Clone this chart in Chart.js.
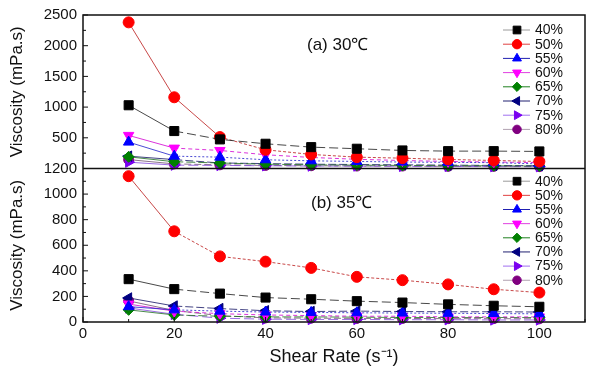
<!DOCTYPE html>
<html><head><meta charset="utf-8">
<script src="https://cdn.jsdelivr.net/npm/chart.js@4.4.1/dist/chart.umd.min.js"></script>
<style>html,body{margin:0;padding:0;background:#fff}#wrap{width:596px;height:371px;position:relative}</style>
</head><body><div id="wrap"><canvas id="c" width="596" height="371"></canvas></div>
<script>
// ---------- data ----------
const shearRate = [10, 20, 30, 40, 50, 60, 70, 80, 90, 100];
const concentrationLabels = ['40%', '50%', '55%', '60%', '65%', '70%', '75%', '80%'];
const panelLabels = ['(a) 30℃', '(b) 35℃'];
const xTickValues = [0, 20, 40, 60, 80, 100];
const topTickValues = [0, 500, 1000, 1500, 2000, 2500];
const bottomTickValues = [0, 200, 400, 600, 800, 1000, 1200];

// (a) 30 °C viscosity (mPa.s)
const v30_40 = [1030, 610, 474, 403, 348, 322, 294, 283, 283, 278];
const v30_50 = [2380, 1160, 512, 305, 229, 185, 168, 147, 131, 114];
const v30_55 = [430, 201, 185, 142, 125, 115, 105, 100, 95, 75];
const v30_60 = [539, 332, 294, 224, 180, 150, 130, 115, 105, 95];
const v30_65 = [190, 110, 90, 70, 60, 55, 50, 45, 45, 40];
const v30_70 = [201, 145, 90, 80, 70, 65, 60, 55, 50, 45];
const v30_75 = [103, 55, 50, 45, 40, 40, 35, 35, 30, 30];
const v30_80 = [145, 75, 60, 50, 45, 40, 40, 35, 35, 30];

// (b) 35 °C viscosity (mPa.s)
const v35_40 = [335, 257, 222, 191, 178, 163, 152, 138, 127, 119];
const v35_50 = [1140, 709, 513, 472, 423, 353, 327, 294, 256, 230];
const v35_55 = [120, 95, 85, 78, 75, 72, 70, 68, 66, 64];
const v35_60 = [140, 85, 65, 55, 50, 45, 45, 40, 40, 40];
const v35_65 = [95, 55, 45, 40, 40, 38, 35, 35, 35, 35];
const v35_70 = [188, 125, 105, 88, 82, 85, 82, 80, 80, 78];
const v35_75 = [110, 60, 30, 22, 20, 20, 18, 18, 16, 16];
const v35_80 = [165, 90, 50, 32, 30, 28, 28, 26, 26, 25];

const series30 = [v30_40, v30_50, v30_55, v30_60, v30_65, v30_70, v30_75, v30_80];
const series35 = [v35_40, v35_50, v35_55, v35_60, v35_65, v35_70, v35_75, v35_80];

// ---------- styles ----------
const FONT = "'Liberation Sans', Arial, sans-serif";
const markerColors = ['#000000', '#ff0000', '#0000ff', '#ff00ff', '#008000', '#000080', '#7a00f0', '#800080'];
const lineColors = ['rgba(40,40,40,0.85)', 'rgba(190,40,40,0.85)', 'rgba(30,30,200,0.8)', 'rgba(210,0,210,0.8)',
                    'rgba(30,110,30,0.8)', 'rgba(20,20,100,0.8)', 'rgba(130,70,220,0.8)', 'rgba(110,80,110,0.8)'];
const legendLineColors = ['#9a9a9a', '#e04040', '#2020b0', '#e040e0', '#208020', '#202070', '#a070f0', '#b0a0b0'];
const pointStyles = ['rect', 'circle', 'triangle', 'triangle', 'rectRot', 'triangle', 'triangle', 'circle'];
const rotations = [0, 0, 0, 180, 0, -90, 90, 0];
const radii = [6.4, 5.5, 6, 6, 5.5, 6, 6, 5];
const dashes = [[9, 4], [3, 2], [2, 2], [4, 3], [9, 3], [8, 3], [10, 4], [7, 3]];

function makeDataset(values, i, axis) {
  return {
    label: concentrationLabels[i],
    data: shearRate.map((x, k) => ({x: x, y: values[k]})),
    yAxisID: axis,
    borderColor: lineColors[i],
    backgroundColor: markerColors[i],
    pointBackgroundColor: markerColors[i],
    pointBorderColor: markerColors[i],
    pointStyle: pointStyles[i],
    rotation: rotations[i],
    pointRadius: radii[i],
    pointHoverRadius: radii[i],
    pointBorderWidth: 1,
    borderWidth: 1,
    clip: false,
    segment: {
      borderDash: ctx => (ctx.p0DataIndex < (i === 1 && axis === 'yT' ? 2 : 1) ? [] : dashes[i])
    }
  };
}

const datasets = [];
series30.forEach((s, i) => datasets.push(makeDataset(s, i, 'yT')));
series35.forEach((s, i) => datasets.push(makeDataset(s, i, 'yB')));

function drawMarker(ctx, style, rot, r, x, y, color) {
  ctx.save();
  ctx.fillStyle = color; ctx.strokeStyle = color; ctx.lineWidth = 1;
  if (Chart.helpers && Chart.helpers.drawPoint) {
    Chart.helpers.drawPoint(ctx, {pointStyle: style, rotation: rot, radius: r, borderWidth: 1}, x, y);
  }
  ctx.restore();
}

const decor = {
  id: 'decor',
  afterDatasetsDraw(chart) {
    const ctx = chart.ctx;
    const a = chart.chartArea;
    const yT = chart.scales.yT, yB = chart.scales.yB, xs = chart.scales.x;
    ctx.save();
    ctx.strokeStyle = '#111';
    ctx.lineWidth = 1.5;
    ctx.strokeRect(a.left, a.top, a.right - a.left, a.bottom - a.top);
    const mid = Math.min(yT.bottom, yB.top);
    ctx.beginPath(); ctx.moveTo(a.left, mid); ctx.lineTo(a.right, mid); ctx.stroke();
    ctx.lineWidth = 1;
    const yTick = (scale, vals) => {
      for (let k = 0; k < vals.length; k++) {
        const y = scale.getPixelForValue(vals[k]);
        ctx.beginPath(); ctx.moveTo(a.left, y); ctx.lineTo(a.left + 5, y); ctx.stroke();
        if (k < vals.length - 1) {
          const ym = scale.getPixelForValue((vals[k] + vals[k + 1]) / 2);
          ctx.beginPath(); ctx.moveTo(a.left, ym); ctx.lineTo(a.left + 3, ym); ctx.stroke();
        }
      }
    };
    yTick(yT, topTickValues);
    yTick(yB, bottomTickValues);
    for (let k = 0; k < xTickValues.length; k++) {
      const x = xs.getPixelForValue(xTickValues[k]);
      ctx.beginPath(); ctx.moveTo(x, a.bottom); ctx.lineTo(x, a.bottom - 5); ctx.stroke();
      const xm = xs.getPixelForValue(xTickValues[k] + 10);
      ctx.beginPath(); ctx.moveTo(xm, a.bottom); ctx.lineTo(xm, a.bottom - 3); ctx.stroke();
    }
    ctx.restore();
  },
  afterDraw(chart) {
    const ctx = chart.ctx;
    const yT = chart.scales.yT, yB = chart.scales.yB;
    ctx.save();
    ctx.fillStyle = '#111';
    ctx.font = '17px ' + FONT;
    ctx.textBaseline = 'middle';
    ctx.textAlign = 'left';
    ctx.fillText(panelLabels[0], 307, yT.top + 30);
    ctx.fillText(panelLabels[1], 311, yB.top + 35);
    const panels = [{y0: yT.top + 15, step: 14.2}, {y0: yB.top + 12.7, step: 14.15}];
    panels.forEach(p => {
      concentrationLabels.forEach((lab, i) => {
        const y = p.y0 + i * p.step;
        ctx.strokeStyle = legendLineColors[i];
        ctx.lineWidth = 1;
        ctx.beginPath(); ctx.moveTo(503, y); ctx.lineTo(530, y); ctx.stroke();
        drawMarker(ctx, pointStyles[i], rotations[i], radii[i] * 0.85, 517, y, markerColors[i]);
        ctx.fillStyle = '#111';
        ctx.font = '14px ' + FONT;
        ctx.textBaseline = 'middle';
        ctx.fillText(lab, 535, y + 0.5);
      });
    });
    ctx.restore();
  }
};

const tickFont = {family: FONT, size: 15};
const titleFont = {family: FONT, size: 17, lineHeight: 1.2};

new Chart(document.getElementById('c'), {
  type: 'line',
  data: {datasets: datasets},
  options: {
    responsive: false,
    animation: false,
    events: [],
    layout: {padding: {top: 15, right: 11, left: 0, bottom: 0}},
    plugins: {legend: {display: false}, tooltip: {enabled: false}, title: {display: false}},
    scales: {
      x: {
        type: 'linear', min: 0, max: 110,
        grid: {display: false, drawTicks: false}, border: {display: false},
        afterBuildTicks: s => { s.ticks = xTickValues.map(v => ({value: v})); },
        ticks: {font: tickFont, color: '#111', padding: 3, autoSkip: false, maxRotation: 0, callback: v => String(v)},
        title: {display: true, text: 'Shear Rate (s⁻¹)', color: '#111', font: {family: FONT, size: 18, lineHeight: 1.2}, padding: {top: 0, bottom: 3}},
        afterFit: s => { s.height = 49; }
      },
      yB: {
        type: 'linear', position: 'left', stack: 'panels', stackWeight: 1, min: 0, max: 1200,
        grid: {display: false, drawTicks: false}, border: {display: false},
        afterBuildTicks: s => { s.ticks = bottomTickValues.map(v => ({value: v})); },
        ticks: {font: tickFont, color: '#111', padding: 6, autoSkip: false, callback: v => String(v)},
        title: {display: true, text: 'Viscosity (mPa.s)', color: '#111', font: titleFont, padding: {top: 7, bottom: 0}},
        afterFit: s => { s.width = 83; }
      },
      yT: {
        type: 'linear', position: 'left', stack: 'panels', stackWeight: 1, min: 0, max: 2500,
        grid: {display: false, drawTicks: false}, border: {display: false},
        afterBuildTicks: s => { s.ticks = topTickValues.map(v => ({value: v})); },
        ticks: {font: tickFont, color: '#111', padding: 6, autoSkip: false, callback: v => (v === 0 ? '' : String(v))},
        title: {display: true, text: 'Viscosity (mPa.s)', color: '#111', font: titleFont, padding: {top: 7, bottom: 0}},
        afterFit: s => { s.width = 83; }
      }
    }
  },
  plugins: [decor]
});
</script>
</body></html>
